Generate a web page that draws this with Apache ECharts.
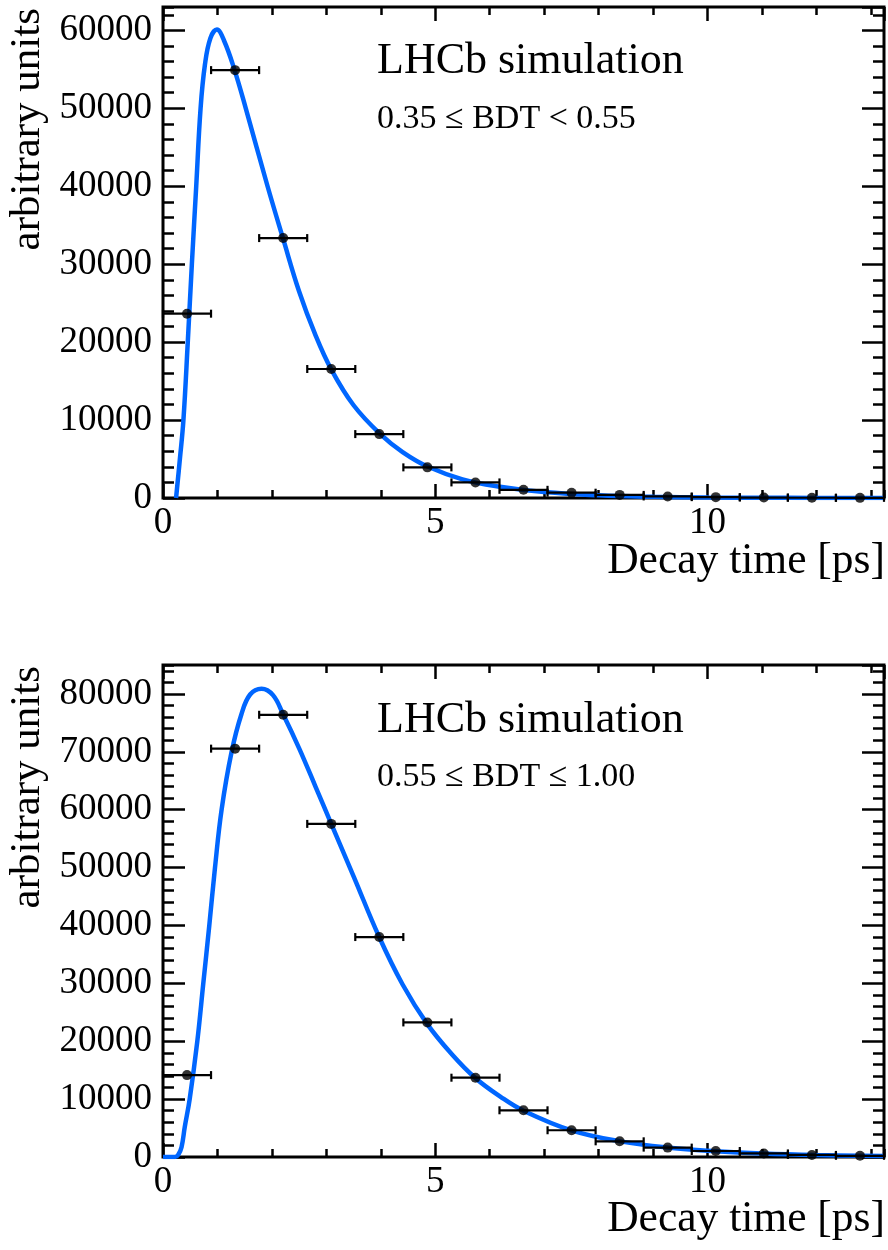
<!DOCTYPE html>
<html><head><meta charset="utf-8">
<script src="https://cdn.jsdelivr.net/npm/echarts@6/dist/echarts.min.js"></script>
<style>html,body{margin:0;padding:0;background:#fff}#c{width:888px;height:1250px}</style>
</head><body><div id="c"></div>
<script>
// ---- data ----
const binCenters = [0.441, 1.324, 2.207, 3.090, 3.972, 4.855, 5.738, 6.620, 7.503, 8.386, 9.268, 10.151, 11.034, 11.916, 12.799];
const binHalfWidth = 0.441;
const topCounts = [23650, 54900, 33350, 16550, 8200, 3930, 2000, 1050, 680, 400, 200, 110, 60, 35, 20];
const bottomCounts = [14150, 70550, 76400, 57550, 38000, 23250, 13700, 8070, 4620, 2710, 1620, 1040, 620, 360, 210];

const topCurveX = [0.24, 0.31, 0.375, 0.455, 0.53, 0.61, 0.69, 0.77, 0.87, 0.99, 1.12, 1.31, 1.52, 1.92, 2.2, 2.5, 2.8, 3.09, 3.5, 3.99, 4.4, 4.87, 5.5, 6.19, 7, 8, 9, 10, 11, 12, 13.24];
const topCurveY = [0, 5000, 10000, 20000, 30000, 40000, 50000, 55600, 59000, 60100, 58700, 55000, 50000, 40000, 33400, 26500, 20900, 16500, 11900, 8200, 5900, 4000, 2400, 1450, 760, 340, 150, 68, 30, 14, 5];
const bottomCurveX = [0, 0.22, 0.28, 0.34, 0.40, 0.49, 0.63, 0.74, 0.85, 0.955, 1.076, 1.26, 1.44, 1.6, 1.81, 2.02, 2.21, 2.5, 2.8, 3.09, 3.5, 3.97, 4.4, 4.85, 5.3, 5.73, 6.2, 6.62, 7.5, 8.4, 9.3, 10.15, 11, 12, 13.24];
const bottomCurveY = [0, 0, 400, 1700, 5200, 10000, 20000, 30000, 40000, 50000, 60000, 70000, 76500, 79900, 80900, 79800, 76400, 70600, 64000, 57550, 48500, 38000, 29800, 23000, 17800, 13700, 10400, 8000, 4600, 2700, 1600, 1000, 600, 330, 160];

const xMax = 13.24;
const topYMax = 63000;
const bottomYMax = 85000;
const xTitle = 'Decay time [ps]';
const yTitle = 'arbitrary units';
const topLabels = ['LHCb simulation', '0.35 \u2264 BDT < 0.55'];
const bottomLabels = ['LHCb simulation', '0.55 \u2264 BDT \u2264 1.00'];

// ---- chart ----
const FONT = '"Liberation Serif", "Times New Roman", serif';
const chart = echarts.init(document.getElementById('c'), null, {renderer: 'canvas'});

function xAxesFor(g) {
  const base = {gridIndex: g, type: 'value', min: 0, max: xMax, splitLine: {show: false},
    axisLine: {show: false, onZero: false}};
  return [
    Object.assign({}, base, {position: 'bottom', interval: 5,
      axisTick: {inside: true, length: 14, lineStyle: {color: '#000', width: 2.5}},
      axisLabel: {show: true, margin: 7, color: '#000', fontFamily: FONT, fontSize: 37,
        showMaxLabel: false, formatter: v => String(v)}}),
    Object.assign({}, base, {position: 'bottom', interval: 1,
      axisTick: {inside: true, length: 8, lineStyle: {color: '#000', width: 2.5}}, axisLabel: {show: false}}),
    Object.assign({}, base, {position: 'top', interval: 5,
      axisTick: {inside: true, length: 14, lineStyle: {color: '#000', width: 2.5}}, axisLabel: {show: false}}),
    Object.assign({}, base, {position: 'top', interval: 1,
      axisTick: {inside: true, length: 8, lineStyle: {color: '#000', width: 2.5}}, axisLabel: {show: false}})
  ];
}
function yAxesFor(g, ymax) {
  const base = {gridIndex: g, type: 'value', min: 0, max: ymax, splitLine: {show: false},
    axisLine: {show: false, onZero: false}};
  return [
    Object.assign({}, base, {position: 'left', interval: 10000,
      axisTick: {inside: true, length: 22, lineStyle: {color: '#000', width: 2.5}},
      axisLabel: {show: true, margin: 11, color: '#000', fontFamily: FONT, fontSize: 37,
        showMaxLabel: false, formatter: v => String(v)}}),
    Object.assign({}, base, {position: 'left', interval: 2000,
      axisTick: {inside: true, length: 11, lineStyle: {color: '#000', width: 2.5}}, axisLabel: {show: false}}),
    Object.assign({}, base, {position: 'right', interval: 10000,
      axisTick: {inside: true, length: 22, lineStyle: {color: '#000', width: 2.5}}, axisLabel: {show: false}}),
    Object.assign({}, base, {position: 'right', interval: 2000,
      axisTick: {inside: true, length: 11, lineStyle: {color: '#000', width: 2.5}}, axisLabel: {show: false}})
  ];
}

function errRender(params, api) {
  const x = api.value(0), y = api.value(1), hw = api.value(2);
  const p1 = api.coord([x - hw, y]), p2 = api.coord([x + hw, y]);
  const cap = 4;
  const st = {stroke: '#000', lineWidth: 2.2};
  return {type: 'group', children: [
    {type: 'line', shape: {x1: p1[0], y1: p1[1], x2: p2[0], y2: p2[1]}, style: st},
    {type: 'line', shape: {x1: p1[0], y1: p1[1] - cap, x2: p1[0], y2: p1[1] + cap}, style: st},
    {type: 'line', shape: {x1: p2[0], y1: p2[1] - cap, x2: p2[0], y2: p2[1] + cap}, style: st}
  ]};
}

function seriesFor(g, curveX, curveY, counts) {
  const xi = g * 4, yi = g * 4;
  return [
    {type: 'line', xAxisIndex: xi, yAxisIndex: yi, data: curveX.map((x, i) => [x, curveY[i]]),
      showSymbol: false, smooth: 0.4, clip: true,
      lineStyle: {color: '#0066ff', width: 4.5}, z: 2, silent: true},
    {type: 'custom', xAxisIndex: xi, yAxisIndex: yi, renderItem: errRender,
      data: binCenters.map((c, i) => [c, counts[i], binHalfWidth]), z: 3, silent: true},
    {type: 'scatter', xAxisIndex: xi, yAxisIndex: yi, data: binCenters.map((c, i) => [c, counts[i]]),
      symbol: 'circle', symbolSize: 10, itemStyle: {color: '#000'}, z: 4, silent: true}
  ];
}

function txt(text, x, y, size, align, rot) {
  return {type: 'text', x: x, y: y, rotation: rot || 0, silent: true,
    style: {text: text, font: size + 'px ' + FONT, fill: '#000', textAlign: align, textVerticalAlign: 'middle'}};
}

const option = {
  animation: false,
  backgroundColor: '#fff',
  grid: [
    {left: 163, top: 7, width: 721, height: 491, show: true, borderColor: '#000', borderWidth: 3,
      backgroundColor: 'transparent', containLabel: false, outerBoundsMode: 'none'},
    {left: 163, top: 665, width: 721, height: 492, show: true, borderColor: '#000', borderWidth: 3,
      backgroundColor: 'transparent', containLabel: false, outerBoundsMode: 'none'}
  ],
  xAxis: xAxesFor(0).concat(xAxesFor(1)),
  yAxis: yAxesFor(0, topYMax).concat(yAxesFor(1, bottomYMax)),
  series: seriesFor(0, topCurveX, topCurveY, topCounts).concat(seriesFor(1, bottomCurveX, bottomCurveY, bottomCounts)),
  graphic: [
    txt(topLabels[0], 377, 61, 44, 'left'),
    txt(topLabels[1], 377, 119, 34, 'left'),
    txt(bottomLabels[0], 377, 720, 44, 'left'),
    txt(bottomLabels[1], 377, 777, 34, 'left'),
    txt(xTitle, 885, 562, 43.5, 'right'),
    txt(xTitle, 885, 1220, 43.5, 'right'),
    txt(yTitle, 28, 8, 43, 'right', Math.PI / 2),
    txt(yTitle, 28, 666, 43, 'right', Math.PI / 2)
  ]
};
chart.setOption(option);
</script>
</body></html>
